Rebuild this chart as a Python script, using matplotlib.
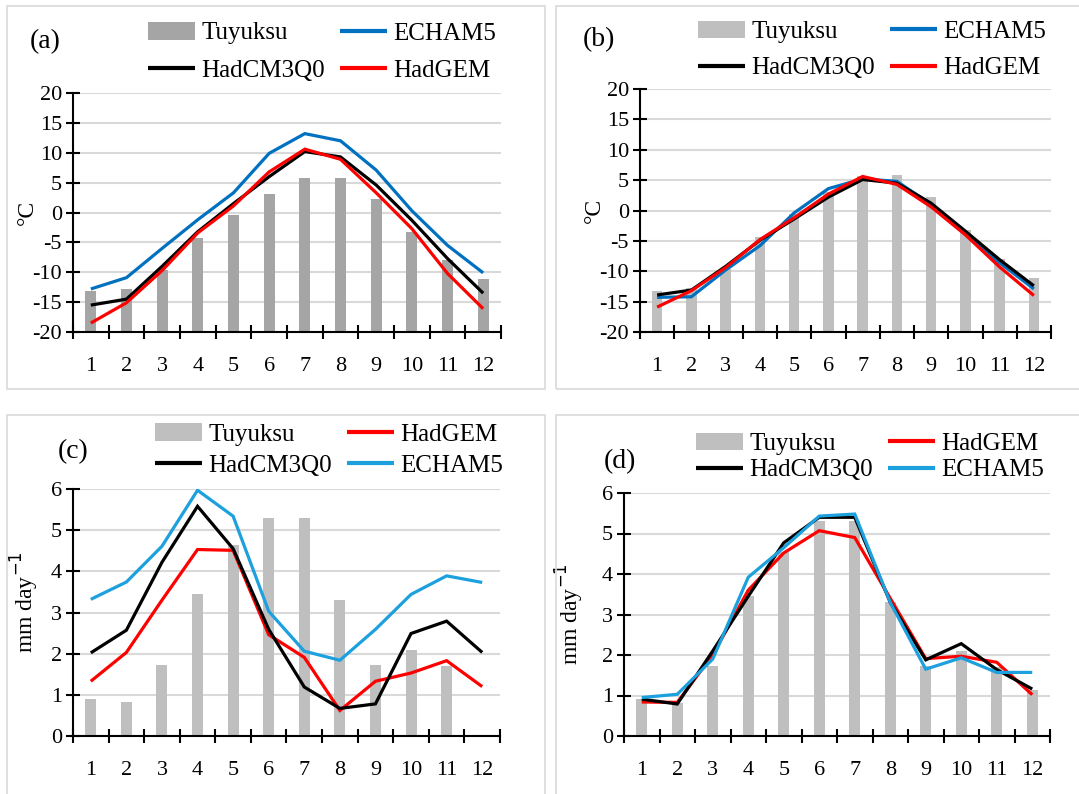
import matplotlib
matplotlib.use("Agg")
import matplotlib.pyplot as plt
from matplotlib.patches import Rectangle
import numpy as np

plt.rcParams["font.family"] = ["Liberation Serif", "DejaVu Serif"]

months = list(range(1, 13))
month_labels = [str(m) for m in months]

# temperature (degC)
tuyuksu_t = [-13.2, -12.8, -9.7, -4.3, -0.5, 3.1, 5.7, 5.8, 2.2, -3.2, -8.0, -11.1]

echam_a = [-12.8, -10.9, -6.0, -1.2, 3.3, 9.9, 13.2, 12.0, 7.1, 0.3, -5.5, -10.1]
hadcm_a = [-15.5, -14.5, -9.0, -3.2, 1.5, 6.0, 10.2, 9.3, 4.6, -1.3, -7.7, -13.5]
hadgem_a = [-18.5, -15.1, -9.7, -3.4, 1.1, 6.8, 10.6, 8.9, 3.3, -2.7, -10.2, -16.1]

echam_b = [-14.3, -14.2, -9.8, -5.8, -0.4, 3.6, 5.2, 4.8, 1.0, -3.8, -8.6, -12.9]
hadcm_b = [-13.9, -13.1, -9.2, -4.9, -1.4, 2.2, 5.1, 4.5, 1.2, -3.4, -8.1, -12.4]
hadgem_b = [-15.9, -13.2, -9.4, -4.8, -1.2, 2.7, 5.6, 4.3, 0.6, -4.0, -9.3, -14.0]

# precipitation (mm/day)
tuyuksu_c = [0.9, 0.83, 1.72, 3.44, 4.63, 5.3, 5.3, 3.3, 1.72, 2.09, 1.69, 0.0]
echam_c = [3.32, 3.74, 4.61, 5.97, 5.34, 3.03, 2.06, 1.84, 2.59, 3.44, 3.89, 3.73]
hadcm_c = [2.02, 2.57, 4.22, 5.58, 4.55, 2.59, 1.19, 0.67, 0.78, 2.49, 2.79, 2.03]
hadgem_c = [1.33, 2.03, 3.3, 4.53, 4.51, 2.46, 1.91, 0.62, 1.33, 1.53, 1.83, 1.2]

tuyuksu_d = [0.91, 0.81, 1.72, 3.45, 4.55, 5.3, 5.3, 3.3, 1.74, 2.1, 1.7, 1.14]
hadcm_d = [0.91, 0.79, 2.1, 3.45, 4.77, 5.4, 5.4, 3.3, 1.88, 2.28, 1.64, 1.16]
hadgem_d = [0.84, 0.83, 2.0, 3.6, 4.52, 5.07, 4.9, 3.4, 1.91, 1.97, 1.82, 1.02]
echam_d = [0.95, 1.03, 1.9, 3.92, 4.65, 5.43, 5.48, 3.3, 1.65, 1.93, 1.57, 1.57]

W, H = 1079, 794
fig = plt.figure(figsize=(W / 100, H / 100), dpi=100)


def px_axes(left, top, right, bottom):
    return fig.add_axes([left / W, 1 - bottom / H, (right - left) / W, (bottom - top) / H])


def border(left, top, right, bottom):
    fig.patches.append(Rectangle((left / W, 1 - bottom / H), (right - left) / W, (bottom - top) / H,
                                 transform=fig.transFigure, fill=False, ec="#d9d9d9", lw=1.2))


def leg_order_of(lines):
    # legend rows: [Tuyuksu, first line] / [second line, third line]; matplotlib fills by column
    return ["Tuyuksu", lines[1][0], lines[0][0], lines[2][0]]


def draw_panel(ax, bars, bar_color, lines, ylim, yticks, label, ylabel,
               leg_center, leg_spacing, label_xy, ylabel_xy):
    x = np.array(months)
    # Excel-style bars grow up from the bottom of the value axis
    base = ylim[0]
    bar_h = ax.bar(x, np.array(bars) - base, bottom=base, width=0.31, color=bar_color,
                   zorder=2, label="Tuyuksu")
    handles = {"Tuyuksu": bar_h}
    for name, vals, color in lines:
        (h,) = ax.plot(x, vals, color=color, lw=2.3, zorder=3, label=name,
                       solid_joinstyle="miter", solid_capstyle="butt")
        handles[name] = h
    ax.set_xlim(0.5, 12.5)
    ax.set_ylim(*ylim)
    ax.set_yticks(yticks)
    ax.set_yticklabels([str(v) for v in yticks])
    ax.set_xticks(np.arange(0.5, 13, 1))
    ax.set_xticklabels([])
    ax.set_xticks(x, minor=True)
    ax.set_xticklabels(month_labels, minor=True)
    ax.tick_params(axis="x", which="major", direction="inout", length=10, width=1.5)
    ax.tick_params(axis="x", which="minor", length=0, pad=18, labelsize=16)
    ax.tick_params(axis="y", direction="inout", length=10, width=1.5, pad=3, labelsize=16)
    for s in ("top", "right"):
        ax.spines[s].set_visible(False)
    for s in ("left", "bottom"):
        ax.spines[s].set_linewidth(1.5)
    ax.yaxis.grid(True, color="#d9d9d9", lw=1.5, zorder=0)
    ax.set_axisbelow(True)
    ax.set_ylabel(ylabel, fontsize=17)
    ax.yaxis.set_label_coords(*ylabel_xy)
    ax.set_facecolor("none")

    order = leg_order_of(lines)
    leg = fig.legend([handles[n] for n in order], order, loc="center", ncol=2,
                     bbox_to_anchor=(leg_center[0] / W, 1 - leg_center[1] / H),
                     frameon=False, fontsize=18, handlelength=1.9, handleheight=0.7,
                     handletextpad=0.25, columnspacing=0.6, labelspacing=leg_spacing,
                     borderpad=0, borderaxespad=0)
    for h in leg.get_lines():
        h.set_linewidth(3.0)
    fig.text(label_xy[0] / W, 1 - label_xy[1] / H, label, fontsize=20, ha="left", va="center")


# panel borders
border(7, 6, 545, 389)
border(556, 6, 1085, 389)
border(7, 415, 545, 800)
border(556, 415, 1085, 800)

temp_ticks = list(range(-20, 21, 5))
prec_ticks = list(range(0, 7))

ax_a = px_axes(73, 93, 501, 332)
draw_panel(ax_a, tuyuksu_t, "#a5a5a5",
           [("ECHAM5", echam_a, "#0070c0"), ("HadCM3Q0", hadcm_a, "black"), ("HadGEM", hadgem_a, "#ff0000")],
           (-20, 20), temp_ticks, "(a)", "\u00b0C", (322, 52), 0.6, (30, 42), (-0.082, 0.5))

ax_b = px_axes(640, 89, 1051, 332)
draw_panel(ax_b, tuyuksu_t, "#bfbfbf",
           [("ECHAM5", echam_b, "#0070c0"), ("HadCM3Q0", hadcm_b, "black"), ("HadGEM", hadgem_b, "#ff0000")],
           (-20, 20), temp_ticks, "(b)", "\u00b0C", (872, 50), 0.55, (583, 40), (-0.085, 0.5))

ax_c = px_axes(73, 489, 500, 736)
draw_panel(ax_c, tuyuksu_c, "#bfbfbf",
           [("HadGEM", hadgem_c, "#ff0000"), ("HadCM3Q0", hadcm_c, "black"), ("ECHAM5", echam_c, "#1ca0de")],
           (0, 6), prec_ticks, "(c)", "mm day$^{-1}$", (329, 450), 0.33, (58, 452), (-0.075, 0.54))

ax_d = px_axes(624, 493, 1050, 736)
draw_panel(ax_d, tuyuksu_d, "#bfbfbf",
           [("HadGEM", hadgem_d, "#ff0000"), ("HadCM3Q0", hadcm_d, "black"), ("ECHAM5", echam_d, "#1ca0de")],
           (0, 6), prec_ticks, "(d)", "mm day$^{-1}$", (870, 457), 0.15, (604, 462), (-0.09, 0.5))

fig.savefig("out.png", dpi=100)
